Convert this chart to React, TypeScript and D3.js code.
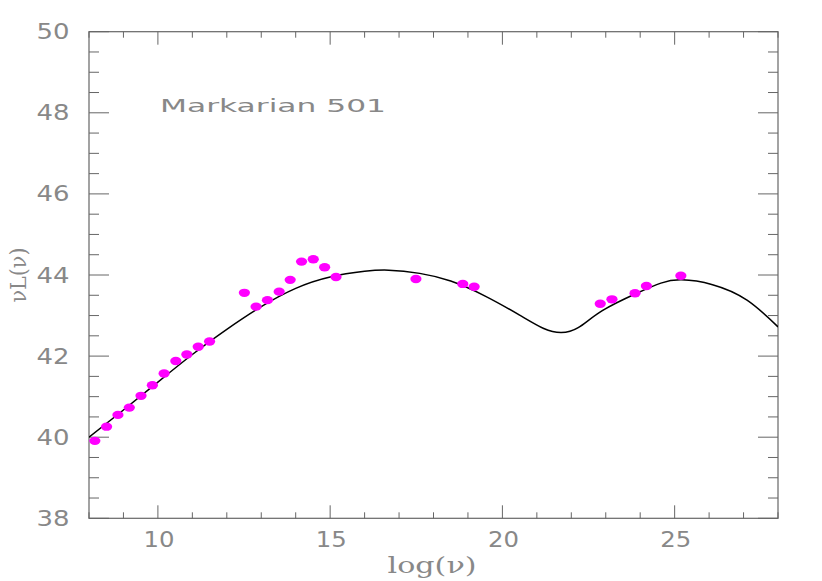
import React from "react";
import * as d3 from "d3";

const pointX = [8.17, 8.51, 8.84, 9.17, 9.51, 9.84, 10.18, 10.52, 10.84, 11.17, 11.5, 12.51, 12.85, 13.18, 13.52, 13.84, 14.17, 14.51, 14.84, 15.17, 17.49, 18.85, 19.18, 22.84, 23.18, 23.85, 24.18, 25.18];
const pointY = [39.91, 40.26, 40.55, 40.73, 41.02, 41.28, 41.57, 41.88, 42.04, 42.23, 42.36, 43.56, 43.22, 43.38, 43.59, 43.88, 44.33, 44.39, 44.19, 43.95, 43.9, 43.78, 43.71, 43.29, 43.4, 43.55, 43.73, 43.98];
const curveX = [8.0, 9.0, 10.0, 11.0, 12.0, 13.0, 14.0, 15.0, 16.0, 16.7, 17.6, 18.5, 19.5, 20.5, 21.2, 21.7, 22.2, 22.9, 23.9, 24.6, 25.2, 26.1, 27.1, 28.0];
const curveY = [40.0, 40.67, 41.36, 42.04, 42.66, 43.22, 43.67, 43.95, 44.09, 44.12, 44.04, 43.85, 43.48, 43.01, 42.68, 42.58, 42.70, 43.12, 43.55, 43.8, 43.88, 43.76, 43.38, 42.72];
const xMajorTicks = [10, 15, 20, 25];
const yMajorTicks = [38, 40, 42, 44, 46, 48, 50];
const title = "Markarian 501";

export default function App() {
  const W = 822, H = 581;
  const left = 89, right = 778, top = 31.7, bottom = 518.3;
  const x = d3.scaleLinear().domain([8, 28]).range([left, right]);
  const y = d3.scaleLinear().domain([38, 50]).range([bottom, top]);
  const xMinor = d3.range(8, 28.001, 1).filter((v) => !xMajorTicks.includes(v));
  const yMinor = d3.range(38, 50.001, 0.5).filter((v) => !yMajorTicks.includes(v));
  const line = d3
    .line<number>()
    .x((_, i) => x(curveX[i]))
    .y((d) => y(d))
    .curve(d3.curveNatural);
  const axisColor = "#666";
  const labelColor = "#888";
  const font = "DejaVu Sans, sans-serif";
  return (
    <svg width={W} height={H} style={{ position: "absolute", left: 0, top: 0, background: "#fff" }}>
      <rect x={left} y={top} width={right - left} height={bottom - top} fill="none" stroke={axisColor} strokeWidth={1.2} />
      {xMajorTicks.map((v) => (
        <g key={"xM" + v}>
          <line x1={x(v)} x2={x(v)} y1={bottom} y2={bottom - 13} stroke={axisColor} />
          <line x1={x(v)} x2={x(v)} y1={top} y2={top + 13} stroke={axisColor} />
          <text x={x(v) + 1} y={547} textAnchor="middle" fontFamily={font} fontSize={21} fill={labelColor} textLength={31} lengthAdjust="spacingAndGlyphs">{v}</text>
        </g>
      ))}
      {xMinor.map((v) => (
        <g key={"xm" + v}>
          <line x1={x(v)} x2={x(v)} y1={bottom} y2={bottom - 6} stroke={axisColor} />
          <line x1={x(v)} x2={x(v)} y1={top} y2={top + 6} stroke={axisColor} />
        </g>
      ))}
      {yMajorTicks.map((v) => (
        <g key={"yM" + v}>
          <line x1={left} x2={left + 20} y1={y(v)} y2={y(v)} stroke={axisColor} />
          <line x1={right} x2={right - 20} y1={y(v)} y2={y(v)} stroke={axisColor} />
          <text x={53} y={y(v) + 7.5} textAnchor="middle" fontFamily={font} fontSize={21} fill={labelColor} textLength={33} lengthAdjust="spacingAndGlyphs">{v}</text>
        </g>
      ))}
      {yMinor.map((v) => (
        <g key={"ym" + v}>
          <line x1={left} x2={left + 10} y1={y(v)} y2={y(v)} stroke={axisColor} />
          <line x1={right} x2={right - 10} y1={y(v)} y2={y(v)} stroke={axisColor} />
        </g>
      ))}
      <defs>
        <clipPath id="plotclip">
          <rect x={left} y={top} width={right - left} height={bottom - top} />
        </clipPath>
      </defs>
      <path d={line(curveY) || ""} fill="none" stroke="#000" strokeWidth={1.5} clipPath="url(#plotclip)" />
      {pointX.map((v, i) => (
        <ellipse key={"p" + i} cx={x(v)} cy={y(pointY[i])} rx={5.6} ry={4.2} fill="#ff00ff" />
      ))}
      <text x={160} y={112} fontFamily={font} fontSize={17} fill={labelColor} textLength={226} lengthAdjust="spacingAndGlyphs">{title}</text>
      <text x={432} y={573} textAnchor="middle" fontFamily="DejaVu Serif, serif" fontSize={22} fill={labelColor} textLength={89} lengthAdjust="spacingAndGlyphs">log(ν)</text>
      <text transform={`translate(26,275) rotate(-90)`} textAnchor="middle" fontFamily="DejaVu Serif, serif" fontSize={22} fill={labelColor} textLength={55} lengthAdjust="spacingAndGlyphs">νL(ν)</text>
    </svg>
  );
}
